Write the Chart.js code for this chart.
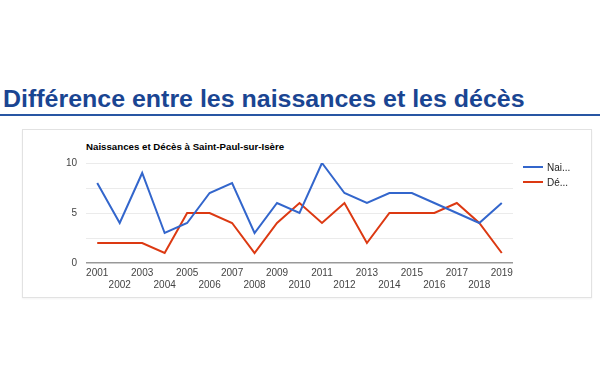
<!DOCTYPE html>
<html>
<head>
  <title>Différence entre les naissances et les décès</title>
  <style>
    body {
      margin: 0;
      padding: 0;
      background-color: #fff;
      font-family: Arial, "Liberation Sans", sans-serif;
    }

    #page {
      position: relative;
      width: 600px;
      height: 383px;
      overflow: hidden;
    }

    h1 {
      position: absolute;
      left: 3px;
      top: 88px;
      margin: 0;
      font-size: 23px;
      line-height: 23px;
      font-weight: bold;
      color: #1a4592;
      white-space: nowrap;
      transform: scaleX(1.085);
      transform-origin: left top;
    }

    #rule {
      position: absolute;
      left: 0;
      top: 114px;
      width: 600px;
      height: 2px;
      background-color: #2856a3;
    }

    #box {
      position: absolute;
      left: 22px;
      top: 129px;
      width: 568px;
      height: 167px;
      border: 1px solid #e2e2e2;
      box-shadow: 0 1px 2px rgba(0, 0, 0, 0.05);
    }

    #chartTitle {
      position: absolute;
      left: 86px;
      top: 141px;
      font-size: 9.7px;
      line-height: 12px;
      font-weight: bold;
      color: #000;
      white-space: nowrap;
    }

    #chartWrap {
      position: absolute;
      left: 0;
      top: 130px;
      width: 600px;
      height: 165px;
    }

    .legend {
      position: absolute;
      left: 523px;
      font-size: 10px;
      line-height: 12px;
      color: #222;
      white-space: nowrap;
    }

    .legend span {
      display: inline-block;
      width: 20px;
      height: 2px;
      vertical-align: middle;
      margin-right: 4px;
      position: relative;
      top: -1px;
    }
  </style>
</head>
<body>

<div id="page">
  <h1>Différence entre les naissances et les décès</h1>
  <div id="rule"></div>
  <div id="box"></div>
  <div id="chartTitle">Naissances et Décès à Saint-Paul-sur-Isère</div>
  <div id="chartWrap"><canvas id="myChart"></canvas></div>
  <div class="legend" style="top: 162px;"><span style="background:#3366cc"></span>Nai...</div>
  <div class="legend" style="top: 177px;"><span style="background:#dc3912"></span>Dé...</div>
</div>

<script src="https://cdn.jsdelivr.net/npm/chart.js"></script>
<script>
  const years = ['2001', '2002', '2003', '2004', '2005', '2006', '2007', '2008', '2009', '2010',
                 '2011', '2012', '2013', '2014', '2015', '2016', '2017', '2018', '2019'];
  const naissances = [8, 4, 9, 3, 4, 7, 8, 3, 6, 5, 10, 7, 6, 7, 7, 6, 5, 4, 6];
  const deces = [2, 2, 2, 1, 5, 5, 4, 1, 4, 6, 4, 6, 2, 5, 5, 5, 6, 4, 1];
  const yTicks = [0, 5, 10];

  // labels en quinconce : une annee sur deux passe sur la deuxieme ligne
  const xLabels = years.map((y, i) => i % 2 === 0 ? y : ['', y]);

  const ctx = document.getElementById('myChart').getContext('2d');
  new Chart(ctx, {
    type: 'line',
    data: {
      labels: xLabels,
      datasets: [{
        label: 'Naissances',
        data: naissances,
        borderColor: '#3366cc',
        backgroundColor: '#3366cc',
        borderWidth: 2,
        pointRadius: 0,
        tension: 0
      }, {
        label: 'Décès',
        data: deces,
        borderColor: '#dc3912',
        backgroundColor: '#dc3912',
        borderWidth: 2,
        pointRadius: 0,
        tension: 0
      }]
    },
    options: {
      responsive: true,
      maintainAspectRatio: false,
      animation: false,
      layout: {
        padding: { top: 33, right: 87, left: 0, bottom: 0 }
      },
      plugins: {
        legend: { display: false },
        tooltip: { enabled: false }
      },
      scales: {
        x: {
          offset: true,
          grid: { display: false, drawTicks: false },
          border: { display: false },
          ticks: {
            autoSkip: false,
            maxRotation: 0,
            minRotation: 0,
            padding: 4,
            color: '#444',
            font: { family: 'Arial', size: 10, lineHeight: 1.2 }
          },
          afterFit: (scale) => { scale.height = 32; }
        },
        y: {
          min: 0,
          max: 10,
          grid: {
            drawTicks: false,
            color: (c) => c.tick && c.tick.value === 0 ? '#999' : '#ebebeb',
            lineWidth: (c) => c.tick && c.tick.value === 0 ? 1.5 : 1
          },
          border: { display: false },
          ticks: {
            stepSize: 2.5,
            padding: 9,
            color: '#444',
            font: { family: 'Arial', size: 10 },
            callback: (v) => yTicks.includes(v) ? v : ''
          },
          afterFit: (scale) => { scale.width = 86; }
        }
      }
    }
  });
</script>
</body>
</html>
